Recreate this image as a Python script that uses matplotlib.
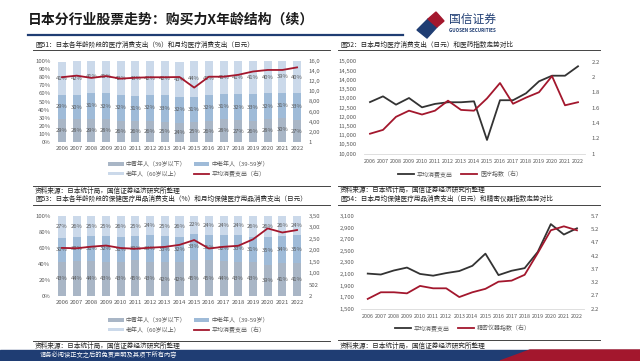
import matplotlib.pyplot as plt
import matplotlib.patches as mpatches
from matplotlib.lines import Line2D
from matplotlib.ticker import FuncFormatter
from matplotlib.transforms import Bbox
import numpy as np

plt.rcParams['font.family'] = ['Noto Sans CJK SC', 'DejaVu Sans']

W, H = 640, 361

years = [str(y) for y in range(2006, 2023)]

# 图51: share of medical spending by age group (%)
med_young = [29, 28, 29, 28, 26, 26, 26, 25, 24, 25, 26, 28, 27, 26, 28, 30, 27]
med_mid = [29, 30, 31, 32, 32, 31, 32, 33, 32, 31, 32, 31, 32, 33, 32, 31, 33]
med_old = [41, 42, 41, 41, 42, 43, 42, 42, 43, 44, 42, 41, 41, 41, 40, 39, 40]
# monthly medical spending (yen), also used in 图52
med_spend = [12800, 13110, 12660, 13020, 12515, 12700, 12790, 12790, 12840, 10745,
             12900, 12900, 13275, 13925, 14230, 14230, 14740]
med_index = [1.26, 1.31, 1.48, 1.56, 1.51, 1.56, 1.69, 1.57, 1.56, 1.72,
             1.92, 1.65, 1.73, 1.80, 2.01, 1.63, 1.67]

# 图53: share of health-care goods spending by age group (%)
hc_young = [43, 44, 44, 43, 43, 45, 43, 42, 42, 45, 45, 44, 43, 43, 39, 41, 41]
hc_mid = [30, 30, 31, 32, 31, 30, 33, 33, 32, 33, 31, 32, 33, 31, 35, 34, 35]
hc_old = [27, 26, 25, 25, 26, 25, 24, 25, 26, 22, 24, 24, 24, 26, 26, 26, 24]
# monthly health-care goods spending (yen), also used in 图54
hc_spend = [2106, 2090, 2160, 2210, 2100, 2070, 2115, 2150, 2240, 2450,
            2080, 2155, 2200, 2480, 2960, 2780, 2888]
prec_index = [2.57, 2.82, 2.82, 2.78, 3.06, 2.97, 2.97, 2.64, 2.82, 2.95,
              3.22, 3.26, 3.48, 4.30, 5.16, 5.31, 5.16]

c_young = '#a9b6c6'
c_mid = '#9fbbd8'
c_old = '#cbd9ea'
c_red = '#a3172d'
c_dark = '#333333'
c_tick = '#595959'
c_navy = '#1f3d73'


def rect(x0, y0, x1, y1):
    return [x0 / W, 1 - y1 / H, (x1 - x0) / W, (y1 - y0) / H]


def hline(fig, x0, x1, y, color='#444444', lw=0.7):
    fig.add_artist(Line2D([x0 / W, x1 / W], [1 - y / H] * 2, color=color, lw=lw))


def ftext(fig, x, y, s, **kw):
    kw.setdefault('fontsize', 4.8)
    kw.setdefault('color', '#222222')
    kw.setdefault('va', 'center')
    fig.text(x / W, 1 - y / H, s, **kw)


def stack_chart(fig, box, young, mid, old, spend, pct_step, rmax, rstep, leg_xy):
    ax = fig.add_axes(rect(*box))
    x = np.arange(len(years))
    b1 = ax.bar(x, young, 0.55, color=c_young)
    b2 = ax.bar(x, mid, 0.55, bottom=young, color=c_mid)
    b3 = ax.bar(x, old, 0.55, bottom=np.add(young, mid), color=c_old)
    for i in x:
        ax.text(i, young[i] / 2, f'{young[i]}%', ha='center', va='center', fontsize=4.2, color=c_tick)
        ax.text(i, young[i] + mid[i] / 2, f'{mid[i]}%', ha='center', va='center', fontsize=4.2, color=c_tick)
        ax.text(i, young[i] + mid[i] + old[i] / 2, f'{old[i]}%', ha='center', va='center', fontsize=4.2, color=c_tick)
    ax.set_xlim(-0.5, len(years) - 0.5)
    ax.set_ylim(0, 100)
    ax.set_yticks(np.arange(0, 101, pct_step))
    ax.yaxis.set_major_formatter(FuncFormatter(lambda v, _: f'{v:.0f}%'))
    ax.set_xticks(x)
    ax.set_xticklabels(years)
    ax.tick_params(length=0, labelsize=4.3, colors=c_tick, pad=3)
    for s in ax.spines.values():
        s.set_visible(False)

    ax2 = ax.twinx()
    ln, = ax2.plot(x, spend, color=c_red, lw=1.3)
    ax2.set_ylim(1 if rstep > 1000 else 2, rmax)
    base = 1 if rstep > 1000 else 2
    ax2.set_yticks(np.arange(base, rmax + 1, rstep))
    ax2.yaxis.set_major_formatter(FuncFormatter(lambda v, _: f'{int(v):,}'))
    ax2.tick_params(length=0, labelsize=4.3, colors=c_tick, pad=3)
    for s in ax2.spines.values():
        s.set_visible(False)
    for t in ax2.get_yticklabels():
        t.set_clip_box(Bbox.from_extents(0, 0, 320, H))
        t.set_clip_on(True)

    handles = [b1[0], b3[0], b2[0], ln]
    labels = ['中青年人（39岁以下）', '老年人（60岁以上）', '中老年人（39-59岁）', '平均消费支出（右）']
    ax.legend(handles, labels, ncol=2, loc='upper left',
              bbox_to_anchor=(leg_xy[0] / W, 1 - leg_xy[1] / H), bbox_transform=fig.transFigure,
              frameon=False, fontsize=4.3, handlelength=2.6, handleheight=0.5,
              columnspacing=1.2, handletextpad=0.4, labelspacing=0.6, borderpad=0,
              labelcolor=c_tick)


def line_chart(fig, box, left, right, lmin, lmax, lstep, rmin, rmax, rstep,
               rfmt, labels, leg_xy):
    ax = fig.add_axes(rect(*box))
    x = np.arange(len(years))
    l1, = ax.plot(x, left, color=c_dark, lw=1.3)
    ax.set_xlim(-0.5, len(years) - 0.5)
    ax.set_ylim(lmin, lmax)
    ax.set_yticks(np.arange(lmin, lmax + 1, lstep))
    ax.yaxis.set_major_formatter(FuncFormatter(lambda v, _: f'{int(v):,}'))
    ax.set_xticks(x)
    ax.set_xticklabels(years)
    ax.tick_params(axis='y', length=0, labelsize=4.3, colors=c_tick, pad=5)
    ax.tick_params(axis='x', length=0, labelsize=3.9, colors=c_tick, pad=4)
    for k, s in ax.spines.items():
        s.set_visible(k == 'bottom')
    ax.spines['bottom'].set_color('#d9d9d9')
    ax.spines['bottom'].set_linewidth(0.6)

    ax2 = ax.twinx()
    l2, = ax2.plot(x, right, color=c_red, lw=1.3)
    ax2.set_ylim(rmin, rmax)
    ax2.set_yticks(np.arange(rmin, rmax + 1e-6, rstep))
    ax2.yaxis.set_major_formatter(FuncFormatter(rfmt))
    ax2.tick_params(length=0, labelsize=4.3, colors=c_tick, pad=5)
    for s in ax2.spines.values():
        s.set_visible(False)

    ax.legend([l1, l2], labels, ncol=2, loc='center left',
              bbox_to_anchor=(leg_xy[0] / W, 1 - leg_xy[1] / H), bbox_transform=fig.transFigure,
              frameon=False, fontsize=4.3, handlelength=2.6, columnspacing=1.5,
              handletextpad=0.5, borderpad=0, labelcolor=c_tick)


fig = plt.figure(figsize=(6.4, 3.61), dpi=100)
fig.patch.set_facecolor('white')

# header
ftext(fig, 28, 20, '日本分行业股票走势：购买力X年龄结构（续）', fontsize=10, weight='bold', color='#1a1a1a')
hline(fig, 28, 403, 35, color=c_navy, lw=1.6)
fig.add_artist(mpatches.Polygon([(417 / W, 1 - 30 / H), (428 / W, 1 - 19 / H), (437 / W, 1 - 27 / H),
                                 (427 / W, 1 - 38 / H)], closed=True, color=c_navy, transform=fig.transFigure))
fig.add_artist(mpatches.Polygon([(428 / W, 1 - 19 / H), (436 / W, 1 - 12 / H), (444 / W, 1 - 21 / H),
                                 (437 / W, 1 - 27 / H)], closed=True, color=c_red, transform=fig.transFigure))
ftext(fig, 449, 20, '国信证券', fontsize=8.5, color=c_navy)
ftext(fig, 449, 31, 'GUOSEN SECURITIES', fontsize=3.3, color=c_navy, weight='bold')

# chart 51
ftext(fig, 35, 45, '图51：日本各年龄阶段的医疗消费支出（%）和月均医疗消费支出（日元）')
hline(fig, 33, 330, 50)
stack_chart(fig, (54.6, 61, 304.4, 142), med_young, med_mid, med_old, med_spend,
            10, 16001, 2000, (105, 158))
hline(fig, 33, 330, 186)
ftext(fig, 35, 191, '资料来源：日本统计局，国信证券经济研究所整理')

# chart 53
ftext(fig, 35, 199, '图53：日本各年龄阶段的保健医疗用品消费支出（%）和月均保健医疗用品消费支出（日元）')
hline(fig, 33, 330, 204.5)
stack_chart(fig, (54.6, 216, 304.4, 296), hc_young, hc_mid, hc_old, hc_spend,
            20, 3502, 500, (105, 314))
hline(fig, 33, 330, 341)
ftext(fig, 35, 346, '资料来源：日本统计局，国信证券经济研究所整理')

# chart 52
ftext(fig, 340, 45, '图52：日本月均医疗消费支出（日元）和医药指数走势对比')
hline(fig, 338, 600, 50)
line_chart(fig, (363.5, 61.5, 584.5, 153.7), med_spend, med_index, 10000, 15000, 500,
           1.0, 2.2, 0.2, lambda v, _: f'{v:g}', ['平均消费支出', '医疗指数（右）'], (395, 174))
hline(fig, 338, 600, 186)
ftext(fig, 340, 190, '资料来源：日本统计局，国信证券经济研究所整理')

# chart 54
ftext(fig, 340, 199, '图54：日本月均保健医疗用品消费支出（日元）和精密仪器指数走势对比')
hline(fig, 338, 600, 204.5)
line_chart(fig, (361.2, 216, 583.5, 308.7), hc_spend, prec_index, 1500, 3100, 200,
           2.2, 5.7, 0.5, lambda v, _: f'{v:.1f}', ['平均消费支出', '精密仪器指数（右）'], (392, 328))
hline(fig, 338, 600, 340)
ftext(fig, 340, 346, '资料来源：日本统计局，国信证券经济研究所整理')

# footer band
fig.add_artist(mpatches.Rectangle((0, 0), 1, 11 / H, color=c_navy, transform=fig.transFigure))
fig.add_artist(mpatches.Polygon([(500 / W, 0), (530 / W, 11 / H), (1, 11 / H), (1, 0)], closed=True,
                                color=c_red, transform=fig.transFigure))
ftext(fig, 40, 355.5, '请务必阅读正文之后的免责声明及其项下所有内容', fontsize=4.5, color='white')

fig.savefig('out.png', dpi=100)
